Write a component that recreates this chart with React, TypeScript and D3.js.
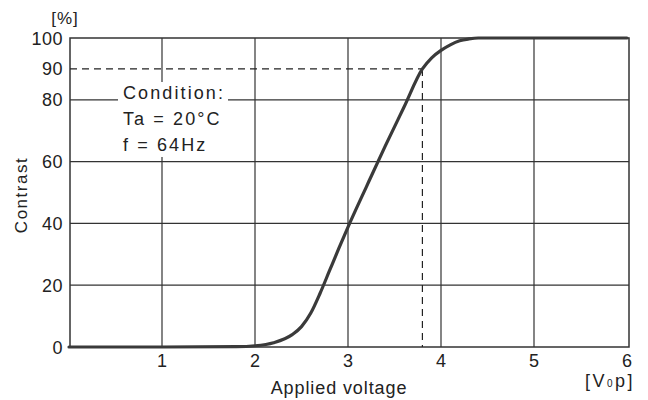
import React from "react";
import * as d3 from "d3";

const voltage = [0, 1, 1.8, 2.0, 2.2, 2.4, 2.5, 2.6, 2.7, 2.8, 2.9, 3.0, 3.2, 3.4, 3.6, 3.8, 3.9, 4.0, 4.1, 4.2, 4.3, 4.4, 5, 6];
const contrast = [0, 0, 0.1, 0.4, 1.4, 4.0, 6.6, 11, 17.4, 24.6, 31.8, 38.8, 52, 65, 77.5, 90, 93.6, 96, 97.8, 99.1, 99.7, 100, 100, 100];
const xTicks = [1, 2, 3, 4, 5, 6];
const yTicks = [0, 20, 40, 60, 80, 90, 100];
const yGrid = [20, 40, 60, 80];
const xGrid = [1, 2, 3, 4, 5];
const refX = 3.8;
const refY = 90;
const conditionLines = ["Condition:", "Ta = 20°C", "f = 64Hz"];

export default function App() {
  const W = 648, H = 400;
  const x = d3.scaleLinear().domain([0, 6]).range([69, 627]);
  const y = d3.scaleLinear().domain([0, 100]).range([347, 38]);
  const left = 70, right = 629;
  const data = voltage.map((v, i) => [v, contrast[i]] as [number, number]);
  const line = d3.line<[number, number]>().x(d => x(d[0])).y(d => y(d[1])).curve(d3.curveMonotoneX);
  const font = "'Liberation Sans', Arial, sans-serif";
  const ink = "#222";
  const box = { x0: 118, x1: 228, y0: 82, y1: 157 };
  return (
    <svg width={W} height={H} style={{ position: "absolute", left: 0, top: 0, background: "#fff" }}>
      <rect x={0} y={0} width={W} height={H} fill="#fff" />
      {yGrid.map(v => (
        <line key={"gy" + v} x1={left} x2={right} y1={y(v)} y2={y(v)} stroke="#333" strokeWidth={1.2} />
      ))}
      {xGrid.map(v => (
        <line key={"gx" + v} x1={x(v)} x2={x(v)} y1={y(100)} y2={y(0)} stroke="#333" strokeWidth={1.2} />
      ))}
      <rect x={left} y={y(100)} width={right - left} height={y(0) - y(100)} fill="none" stroke="#333" strokeWidth={1.5} />
      <rect x={box.x0} y={box.y0} width={box.x1 - box.x0} height={box.y1 - box.y0} fill="#fff" />
      <line x1={left} x2={x(refX)} y1={y(refY)} y2={y(refY)} stroke="#222" strokeWidth={1.2} strokeDasharray="7,5" />
      <line x1={x(refX)} x2={x(refX)} y1={y(refY)} y2={y(0)} stroke="#222" strokeWidth={1.2} strokeDasharray="7,5" />
      <path d={line(data) || ""} fill="none" stroke="#3a3a3a" strokeWidth={3.2} strokeLinecap="round" />
      {conditionLines.map((t, i) => (
        <text key={t} x={123} y={99 + i * 26} fontFamily={font} fontSize={18} letterSpacing={2.1} fill={ink}>{t}</text>
      ))}
      {yTicks.map(v => (
        <text key={"yt" + v} x={63} y={y(v) + 6.5} textAnchor="end" fontFamily={font} fontSize={18} letterSpacing={0.5} fill={ink}>{v}</text>
      ))}
      {xTicks.map(v => (
        <text key={"xt" + v} x={x(v)} y={367} textAnchor="middle" fontFamily={font} fontSize={18} fill={ink}>{v}</text>
      ))}
      <text x={65} y={24} textAnchor="middle" fontFamily={font} fontSize={17} letterSpacing={1} fill={ink}>[%]</text>
      <text transform={`translate(27,195) rotate(-90)`} textAnchor="middle" fontFamily={font} fontSize={17} letterSpacing={1.5} fill={ink}>Contrast</text>
      <text x={339} y={394} textAnchor="middle" fontFamily={font} fontSize={18} letterSpacing={0.9} fill={ink}>Applied voltage</text>
      <text x={635} y={387} textAnchor="end" fontFamily={font} fontSize={18} fill={ink} letterSpacing={2.5}>
        [V<tspan fontSize={10}>0</tspan>p]
      </text>
    </svg>
  );
}
